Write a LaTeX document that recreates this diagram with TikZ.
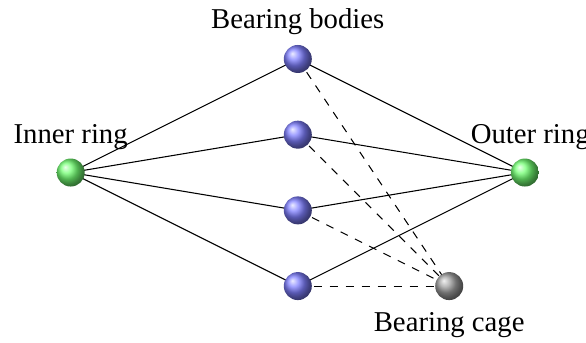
\documentclass[tikz,border=0pt]{standalone}
\usepackage{fontspec}
\setmainfont{Liberation Serif}
\begin{document}
\begin{tikzpicture}[
  ballnode/.style={circle, inner sep=0pt, minimum size=0.37cm, shading=ball},
  greenball/.style={ballnode, ball color=green!55!white},
  blueball/.style={ballnode, ball color=blue!50!white},
  grayball/.style={ballnode, ball color=gray!75!white},
  lbl/.style={anchor=base, inner sep=0pt, font=\fontsize{10.8}{13}\selectfont},
  solidlink/.style={line width=0.4pt},
  dashlink/.style={line width=0.4pt, dashed}
]
\useasboundingbox (-0.934,-2.239) rectangle (6.807,2.279);
% node positions
\coordinate (pin) at (0,0);
\coordinate (pout) at (6,0);
\coordinate (p1) at (3,1.5);
\coordinate (p2) at (3,0.5);
\coordinate (p3) at (3,-0.5);
\coordinate (p4) at (3,-1.5);
\coordinate (pc) at (5,-1.5);
% links (drawn first, balls on top)
\foreach \b in {p1,p2,p3,p4}{
  \draw[solidlink] (pin) -- (\b);
  \draw[solidlink] (\b) -- (pout);
  \draw[dashlink] (\b) -- (pc);
}
% balls
\node[greenball] (in) at (pin) {};
\node[greenball] (out) at (pout) {};
\node[blueball] (b1) at (p1) {};
\node[blueball] (b2) at (p2) {};
\node[blueball] (b3) at (p3) {};
\node[blueball] (b4) at (p4) {};
\node[grayball] (cage) at (pc) {};
% labels
\node[lbl] (lin) at (0,0.39) {Inner ring};
\node[lbl] (lout) at (6.07,0.38) {Outer ring};
\node[lbl] (lb) at (3,1.9) {Bearing bodies};
\node[lbl] (lc) at (5,-2.1) {Bearing cage};
\end{tikzpicture}
\end{document}
